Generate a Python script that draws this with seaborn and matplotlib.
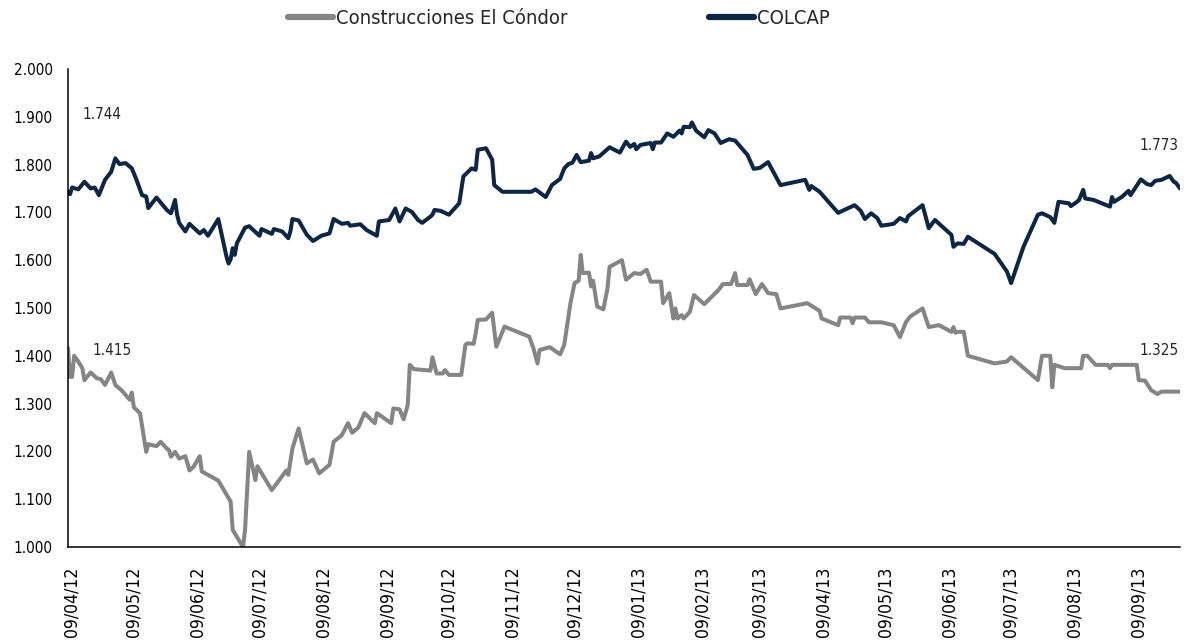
import pandas as pd
import numpy as np
import matplotlib
matplotlib.use("Agg")
import matplotlib.pyplot as plt
import matplotlib.transforms as mtransforms
from matplotlib.ticker import FuncFormatter, MultipleLocator
from matplotlib.lines import Line2D
import seaborn as sns

# ---------------- data ----------------
start_date = "2012-04-09"

colcap_days = [0, 1, 2, 5, 8, 11, 13, 15, 18, 21, 23, 25, 28, 31, 33, 36, 38, 39, 43, 48,
               50, 51, 52, 53, 54, 57, 59, 64, 66, 68, 73, 77, 78, 79, 80, 81, 82, 86, 88, 93,
               94, 99, 100, 104, 107, 108, 109, 112, 116, 119, 123, 127, 129, 133, 136, 137, 142, 145, 150, 151,
               156, 159, 161, 164, 167, 170, 172, 176, 177, 178, 181, 185, 190, 192, 196, 198, 199, 203, 206, 207,
               211, 225, 227, 232, 235, 239, 241, 243, 245, 247, 249, 253, 254, 255, 258, 263, 268, 271, 273, 275,
               276, 278, 283, 284, 285, 288, 291, 294, 297, 298, 299, 302, 303, 305, 309, 311, 314, 317, 321, 324,
               330, 333, 336, 340, 346, 358, 360, 361, 365, 374, 382, 385, 387, 390, 393, 395, 401, 404, 407, 408,
               415, 418, 421, 429, 430, 432, 435, 437, 450, 456, 458, 464, 471, 473, 477, 479, 481, 486, 487, 490,
               491, 493, 494, 498, 506, 507, 508, 512, 515, 516, 521, 524, 526, 528, 531, 535, 537, 538, 540]
colcap_vals = [1743, 1738, 1752, 1748, 1764, 1750, 1752, 1736, 1768, 1785, 1813, 1801, 1803, 1792, 1771, 1736, 1733, 1709, 1731, 1705,
               1698, 1712, 1726, 1695, 1678, 1660, 1676, 1656, 1663, 1651, 1686, 1607, 1593, 1602, 1625, 1611, 1635, 1668, 1671, 1651,
               1665, 1655, 1665, 1660, 1646, 1660, 1686, 1683, 1653, 1640, 1651, 1656, 1686, 1676, 1678, 1672, 1675, 1663, 1651, 1681,
               1684, 1708, 1681, 1708, 1701, 1684, 1678, 1691, 1695, 1705, 1703, 1695, 1719, 1775, 1792, 1789, 1831, 1834, 1810, 1757,
               1743, 1743, 1748, 1732, 1757, 1770, 1792, 1801, 1804, 1820, 1805, 1808, 1824, 1813, 1817, 1836, 1825, 1848, 1837, 1843,
               1832, 1841, 1845, 1832, 1846, 1846, 1865, 1858, 1871, 1865, 1879, 1878, 1888, 1871, 1857, 1872, 1865, 1845, 1853, 1850,
               1820, 1791, 1793, 1805, 1757, 1768, 1747, 1755, 1743, 1699, 1715, 1703, 1686, 1698, 1688, 1672, 1676, 1688, 1681, 1692,
               1715, 1667, 1684, 1653, 1628, 1635, 1634, 1649, 1613, 1576, 1552, 1628, 1695, 1698, 1690, 1678, 1722, 1719, 1713, 1722,
               1726, 1747, 1729, 1726, 1712, 1732, 1722, 1733, 1745, 1736, 1769, 1759, 1757, 1766, 1768, 1776, 1764, 1762, 1750]

condor_days = [0, 1, 2, 3, 5, 7, 8, 11, 14, 16, 18, 21, 23, 26, 30, 31, 32, 35, 38, 39,
               43, 45, 48, 49, 50, 52, 54, 57, 59, 61, 64, 65, 73, 78, 79, 80, 85, 86, 88, 91,
               92, 99, 106, 107, 109, 112, 116, 119, 122, 127, 129, 133, 136, 138, 141, 144, 149, 150, 157, 158,
               161, 163, 165, 166, 168, 176, 177, 179, 182, 183, 185, 191, 193, 194, 197, 198, 199, 203, 206, 208,
               212, 224, 226, 228, 229, 234, 239, 241, 244, 246, 248, 249, 250, 253, 254, 255, 257, 260, 262, 263,
               269, 271, 275, 278, 281, 283, 288, 289, 292, 294, 295, 296, 298, 299, 302, 304, 309, 316, 318, 322,
               324, 325, 330, 331, 334, 337, 340, 344, 346, 359, 365, 366, 374, 375, 380, 381, 382, 387, 389, 395,
               401, 404, 407, 409, 415, 418, 423, 429, 430, 431, 432, 435, 437, 450, 456, 458, 471, 473, 477, 478,
               479, 484, 492, 493, 495, 499, 505, 506, 507, 519, 520, 523, 526, 529, 531, 540]
condor_vals = [1416, 1356, 1356, 1400, 1388, 1374, 1349, 1365, 1353, 1351, 1339, 1365, 1339, 1328, 1308, 1323, 1292, 1280, 1199, 1215,
               1211, 1220, 1206, 1203, 1189, 1199, 1185, 1190, 1160, 1168, 1190, 1158, 1139, 1102, 1095, 1036, 1000, 1036, 1199, 1140,
               1169, 1119, 1160, 1151, 1206, 1248, 1175, 1183, 1154, 1172, 1220, 1234, 1259, 1239, 1250, 1280, 1259, 1280, 1259, 1290,
               1288, 1267, 1297, 1381, 1372, 1369, 1397, 1363, 1363, 1370, 1360, 1360, 1423, 1426, 1425, 1447, 1475, 1476, 1490, 1419,
               1461, 1440, 1416, 1384, 1412, 1418, 1403, 1423, 1510, 1552, 1557, 1611, 1573, 1574, 1545, 1557, 1503, 1497, 1541, 1586,
               1600, 1559, 1573, 1571, 1580, 1555, 1555, 1510, 1531, 1478, 1499, 1478, 1485, 1478, 1492, 1527, 1508, 1538, 1550, 1550,
               1573, 1548, 1548, 1560, 1529, 1550, 1531, 1529, 1499, 1510, 1494, 1478, 1464, 1480, 1480, 1468, 1480, 1480, 1470, 1470,
               1464, 1439, 1471, 1482, 1499, 1460, 1464, 1450, 1460, 1448, 1450, 1450, 1400, 1384, 1388, 1397, 1349, 1400, 1400, 1334,
               1381, 1374, 1374, 1400, 1400, 1381, 1381, 1374, 1381, 1381, 1349, 1348, 1328, 1320, 1325, 1325]

series_names = ["Construcciones El Cóndor", "COLCAP"]
series_colors = ["#858585", "#0D2646"]
value_labels = ["1.744", "1.415", "1.773", "1.325"]

x_tick_labels = ["09/04/12", "09/05/12", "09/06/12", "09/07/12", "09/08/12", "09/09/12",
                 "09/10/12", "09/11/12", "09/12/12", "09/01/13", "09/02/13", "09/03/13",
                 "09/04/13", "09/05/13", "09/06/13", "09/07/13", "09/08/13", "09/09/13"]

# ---------------- build data frame ----------------
t0 = pd.Timestamp(start_date)
df = pd.concat([
    pd.DataFrame({"fecha": t0 + pd.to_timedelta(condor_days, unit="D"),
                  "valor": condor_vals, "serie": series_names[0]}),
    pd.DataFrame({"fecha": t0 + pd.to_timedelta(colcap_days, unit="D"),
                  "valor": colcap_vals, "serie": series_names[1]}),
], ignore_index=True)

# ---------------- plot ----------------
sns.set_theme(style="white")
plt.rcParams["font.family"] = ["DejaVu Sans"]
plt.rcParams["font.stretch"] = "condensed"

fig = plt.figure(figsize=(11.84, 6.44), dpi=100)
ax = fig.add_axes([0.0574, 0.1506, 0.9392, 0.7424])

sns.lineplot(data=df, x="fecha", y="valor", hue="serie", hue_order=series_names,
             palette=dict(zip(series_names, series_colors)), estimator=None,
             linewidth=2.9, ax=ax, legend=False)
for ln in ax.lines:
    ln.set_solid_joinstyle("round")
    ln.set_solid_capstyle("round")

ax.set_ylim(1000, 2000)
ax.yaxis.set_major_locator(MultipleLocator(100))
ax.yaxis.set_major_formatter(FuncFormatter(lambda v, p: f"{v:,.0f}".replace(",", ".")))
ax.set_xlim(df["fecha"].min(), df["fecha"].max())
tick_dates = pd.to_datetime(x_tick_labels, format="%d/%m/%y")
ax.set_xticks(tick_dates)
ax.set_xticklabels(x_tick_labels, rotation=90, va="top", ha="center")
ax.set_xlabel("")
ax.set_ylabel("")
ax.tick_params(axis="both", length=0, colors="black")
ax.tick_params(axis="y", labelsize=11, pad=11)
ax.tick_params(axis="x", labelsize=12.6, pad=14)
shift = mtransforms.ScaledTranslation(4 / 100, 0, fig.dpi_scale_trans)
for lab in ax.get_xticklabels():
    lab.set_transform(lab.get_transform() + shift)

for s in ["top", "right"]:
    ax.spines[s].set_visible(False)
for s in ["left", "bottom"]:
    ax.spines[s].set_color("black")
    ax.spines[s].set_linewidth(1.1)
ax.grid(False)

# value labels
ax.text(0.0126, 0.904, value_labels[0], transform=ax.transAxes, ha="left", va="center", fontsize=11)
ax.text(0.0216, 0.411, value_labels[1], transform=ax.transAxes, ha="left", va="center", fontsize=11)
ax.text(0.999, 0.839, value_labels[2], transform=ax.transAxes, ha="right", va="center", fontsize=11)
ax.text(0.999, 0.412, value_labels[3], transform=ax.transAxes, ha="right", va="center", fontsize=11)

handles = [Line2D([0], [0], color=c, lw=4.5, solid_capstyle="round") for c in series_colors]
fig.legend(handles, series_names, loc="center", bbox_to_anchor=(0.472, 0.971), ncol=2,
           frameon=False, fontsize=14.5, handlelength=2.24, handletextpad=0.15, columnspacing=7.05)

fig.savefig("out.png", dpi=100)
